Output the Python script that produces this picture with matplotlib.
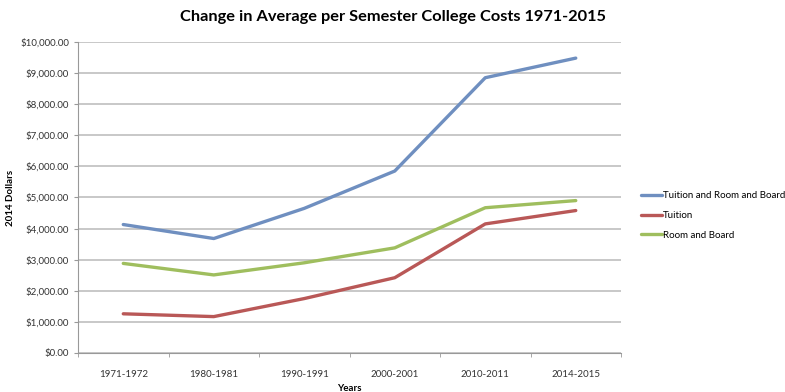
import numpy as np
import matplotlib.pyplot as plt
from matplotlib.ticker import FuncFormatter, FixedLocator

plt.rcParams['font.family'] = ['Lato', 'DejaVu Sans']

# Dados
anos = ['1971-1972', '1980-1981', '1990-1991', '2000-2001', '2010-2011', '2014-2015']
total = [4130, 3680, 4650, 5850, 8850, 9480]
mensalidade = [1260, 1170, 1750, 2420, 4150, 4580]
moradia = [2880, 2510, 2900, 3380, 4670, 4900]

fig = plt.figure(figsize=(7.85, 3.92), dpi=100)
ax = fig.add_axes([0.0994, 0.0995, 0.6917, 0.7935])

x = np.arange(len(anos))
ax.plot(x, total, color='#6f8fc0', lw=2.4, label='Tuition and Room and Board', solid_capstyle='round')
ax.plot(x, mensalidade, color='#b95857', lw=2.4, label='Tuition', solid_capstyle='round')
ax.plot(x, moradia, color='#9fbe5e', lw=2.4, label='Room and Board', solid_capstyle='round')

ax.set_xlim(-0.5, len(anos) - 0.5)
ax.set_ylim(0, 10000)
ax.set_yticks(np.arange(0, 10001, 1000))
ax.yaxis.set_major_formatter(FuncFormatter(lambda v, p: f'${v:,.2f}'))
ax.set_xticks(x)
ax.set_xticklabels(anos)
ax.xaxis.set_minor_locator(FixedLocator(np.arange(-0.5, len(anos), 1)))
ax.tick_params(axis='x', which='major', length=0, pad=12, labelsize=7, colors='#333333')
ax.tick_params(axis='x', which='minor', length=3, color='#999999')
ax.tick_params(axis='y', length=3, color='#999999', labelsize=7, colors='#333333')
ax.tick_params(axis='y', which='both', color='#999999')

ax.grid(axis='y', color='#c4c4c4', lw=1.3)
ax.set_axisbelow(True)
for s in ['top', 'right']:
    ax.spines[s].set_visible(False)
ax.spines['left'].set_color('#999999')
ax.spines['bottom'].set_color('#999999')

ax.set_xlabel('Years', fontsize=7, fontweight='bold', labelpad=4)
ax.set_ylabel('2014 Dollars', fontsize=7, fontweight='bold', labelpad=4)
fig.suptitle('Change in Average per Semester College Costs 1971-2015', fontsize=11.8,
             fontweight='bold', x=0.5, y=0.975)

fig.legend(loc='center left', bbox_to_anchor=(0.805, 0.45), frameon=False, fontsize=7,
           handlelength=2.2, handletextpad=0.1, labelspacing=1.1)

plt.savefig('out.png', dpi=100)
